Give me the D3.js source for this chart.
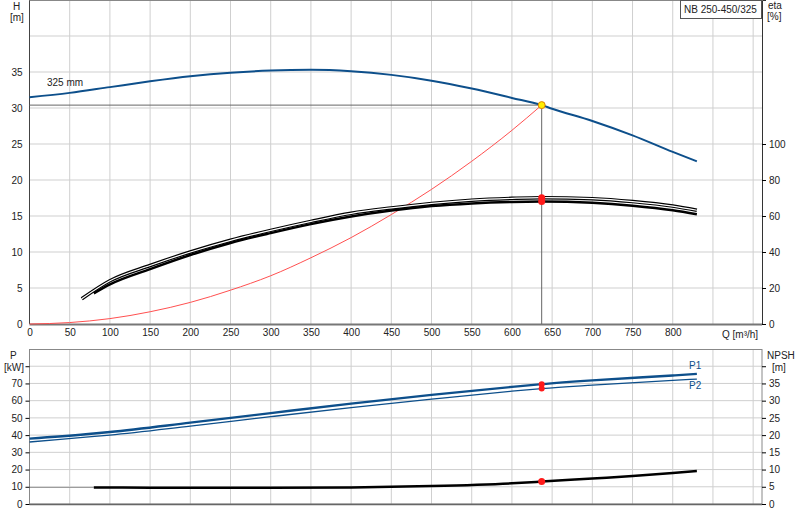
<!DOCTYPE html>
<html><head><meta charset="utf-8">
<script src="https://cdnjs.cloudflare.com/ajax/libs/d3/7.8.5/d3.min.js"></script>
<style>body{margin:0;background:#fff}text{font-family:"Liberation Sans",Arial,sans-serif;font-size:10px;fill:#222}</style>
</head><body>
<script>
// pump curve data
var headQ = [0, 50, 100, 150, 200, 250, 300, 350, 400, 450, 500, 550, 600, 637, 650, 700, 750, 800, 830];
var headH = [31.5, 32.1, 32.9, 33.7, 34.4, 34.9, 35.2, 35.3, 35.1, 34.6, 33.8, 32.7, 31.4, 30.4, 29.9, 28.2, 26.2, 23.9, 22.6];
var sysQ = [0, 50, 100, 150, 200, 250, 300, 350, 400, 450, 500, 550, 600, 637];
var sysH = [0, 0.2, 0.75, 1.7, 3.0, 4.7, 6.7, 9.2, 12.0, 15.2, 18.7, 22.6, 26.9, 30.4];
var etaQ = [65, 100, 150, 200, 250, 300, 350, 400, 450, 500, 550, 600, 637, 700, 750, 800, 830];
var eta1 = [14, 24, 32.5, 40, 46.5, 52, 57, 61.5, 64.5, 67, 68.8, 69.8, 70.2, 69.6, 68, 65.5, 63.2];
var eta2Q = [80, 100, 150, 200, 250, 300, 350, 400, 450, 500, 550, 600, 637, 700, 750, 800, 830];
var eta2 = [17, 22, 30.5, 38.3, 45, 50.5, 55.5, 59.7, 63, 65.5, 67, 67.8, 68, 67.3, 65.7, 63.2, 61];
var pQ = [0, 70, 100, 200, 300, 400, 500, 600, 637, 700, 800, 830];
var p1 = [38, 40.5, 41.8, 47.2, 52.8, 58.3, 63.4, 68, 69.6, 71.8, 74.6, 75.5];
var p2 = [36, 38.8, 40, 45.2, 50.7, 56, 60.9, 65.5, 67, 69, 71.8, 72.5];
var npshQ = [80, 150, 200, 300, 400, 500, 600, 637, 700, 750, 800, 830];
var npsh = [4.8, 4.75, 4.7, 4.7, 4.8, 5.2, 6.0, 6.5, 7.4, 8.1, 9.0, 9.6];
var duty = {q: 637, h: 30.4};
var qTicks = [0, 50, 100, 150, 200, 250, 300, 350, 400, 450, 500, 550, 600, 650, 700, 750, 800];
var hTicks = [0, 5, 10, 15, 20, 25, 30, 35];
var etaTicks = [0, 20, 40, 60, 80, 100];
var pTicks = [0, 10, 20, 30, 40, 50, 60, 70];
var npshTicks = [0, 5, 10, 15, 20, 25, 30, 35];

var svg = d3.select("body").append("svg").attr("width", 800).attr("height", 520);
var x = d3.scaleLinear().domain([0, 911]).range([29.5, 762]);
var yH = d3.scaleLinear().domain([0, 45]).range([324, 0]);
var yEta = d3.scaleLinear().domain([0, 180]).range([324, 0]);
var yP = d3.scaleLinear().domain([0, 90]).range([504, 349]);
var yN = d3.scaleLinear().domain([0, 45]).range([504, 349]);
var grid = "#cfcfcf";

function line(xs, ys, sy) {
  return d3.line().x(function(d, i) { return x(xs[i]); }).y(function(d) { return sy(d); }).curve(d3.curveMonotoneX)(ys);
}

// ---- top panel grid
var gTop = svg.append("g");
d3.range(50, 901, 50).forEach(function(q) {
  gTop.append("line").attr("x1", x(q)).attr("x2", x(q)).attr("y1", 0).attr("y2", 324).attr("stroke", grid);
});
d3.range(5, 45, 5).forEach(function(h) {
  gTop.append("line").attr("x1", 29.5).attr("x2", 762).attr("y1", yH(h)).attr("y2", yH(h)).attr("stroke", grid);
});
gTop.append("line").attr("x1", 29.5).attr("x2", 29.5).attr("y1", 0).attr("y2", 324).attr("stroke", "#444");
gTop.append("line").attr("x1", 29.5).attr("x2", 762).attr("y1", 324.5).attr("y2", 324.5).attr("stroke", "#777").attr("stroke-width", 2);
gTop.append("line").attr("x1", 29.5).attr("x2", 762).attr("y1", 0.5).attr("y2", 0.5).attr("stroke", "#888");

var ax = svg.append("g").attr("transform", "translate(0,324)")
  .call(d3.axisBottom(x).tickValues(qTicks).tickSize(0).tickPadding(5));
ax.select(".domain").remove();
svg.append("g").attr("transform", "translate(29.5,0)")
  .call(d3.axisLeft(yH).tickValues(hTicks).tickSize(0).tickPadding(7)).select(".domain").remove();
svg.append("g").attr("transform", "translate(762,0)")
  .call(d3.axisRight(yEta).tickValues(etaTicks).tickSize(4).tickPadding(3)).select(".domain").attr("stroke", "#333");

svg.append("text").attr("x", 13).attr("y", 10).text("H");
svg.append("text").attr("x", 10).attr("y", 21).text("[m]");
svg.append("text").attr("x", 768).attr("y", 9).text("eta");
svg.append("text").attr("x", 767).attr("y", 20).text("[%]");
svg.append("text").attr("x", 722).attr("y", 338).html("Q [m&#179;/h]");
svg.append("rect").attr("x", 680.5).attr("y", 0.5).attr("width", 81).attr("height", 18).attr("fill", "#fff").attr("stroke", "#555");
svg.append("text").attr("x", 684).attr("y", 13).text("NB 250-450/325");
svg.append("text").attr("x", 47).attr("y", 86).text("325 mm");

// duty lines
gTop.append("line").attr("x1", x(0)).attr("x2", x(duty.q)).attr("y1", yH(duty.h)).attr("y2", yH(duty.h)).attr("stroke", "#666");
gTop.append("line").attr("x1", x(duty.q)).attr("x2", x(duty.q)).attr("y1", yH(duty.h)).attr("y2", 324).attr("stroke", "#666");

// curves
gTop.append("path").attr("d", line(sysQ, sysH, yH)).attr("fill", "none").attr("stroke", "#ff5050").attr("stroke-width", 1);
gTop.append("path").attr("d", line(headQ, headH, yH)).attr("fill", "none").attr("stroke", "#0d4f8b").attr("stroke-width", 2);
gTop.append("path").attr("d", line(etaQ, eta1, yEta)).attr("fill", "none").attr("stroke", "#000").attr("stroke-width", 3.5);
gTop.append("path").attr("d", line(etaQ, eta1, yEta)).attr("fill", "none").attr("stroke", "#fff").attr("stroke-width", 1.2);
gTop.append("path").attr("d", line(eta2Q, eta2, yEta)).attr("fill", "none").attr("stroke", "#000").attr("stroke-width", 2.5);
[[eta1, etaQ], [eta2, eta2Q]].forEach(function(s) {
  var i = s[1].indexOf(duty.q);
  gTop.append("circle").attr("cx", x(duty.q)).attr("cy", yEta(s[0][i])).attr("r", 3.5).attr("fill", "#ff1a1a");
});
gTop.append("circle").attr("cx", x(duty.q)).attr("cy", yH(duty.h)).attr("r", 3.5).attr("fill", "#ffee00").attr("stroke", "#e08000");

// ---- bottom panel
var gBot = svg.append("g");
d3.range(50, 901, 50).forEach(function(q) {
  gBot.append("line").attr("x1", x(q)).attr("x2", x(q)).attr("y1", 349).attr("y2", 504).attr("stroke", grid);
});
d3.range(10, 90, 10).forEach(function(p) {
  gBot.append("line").attr("x1", 29.5).attr("x2", 762).attr("y1", yP(p)).attr("y2", yP(p)).attr("stroke", grid);
});
gBot.append("rect").attr("x", 29.5).attr("y", 349.5).attr("width", 732.5).attr("height", 154.5).attr("fill", "none").attr("stroke", "#888");
gBot.append("line").attr("x1", 29.5).attr("x2", 762).attr("y1", 504.5).attr("y2", 504.5).attr("stroke", "#666").attr("stroke-width", 1.5);
svg.append("g").attr("transform", "translate(29.5,0)")
  .call(d3.axisLeft(yP).tickValues(pTicks.concat([80])).tickFormat(function(d) { return d === 80 ? "" : d; }).tickSize(4).tickPadding(3))
  .select(".domain").remove();
svg.append("g").attr("transform", "translate(762,0)")
  .call(d3.axisRight(yN).tickValues(npshTicks.concat([40])).tickFormat(function(d) { return d === 40 ? "" : d; }).tickSize(4).tickPadding(3))
  .select(".domain").remove();
svg.selectAll(".tick text").style("font-family", "Liberation Sans").style("font-size", "10px").attr("fill", "#222");
svg.append("text").attr("x", 10).attr("y", 359).text("P");
svg.append("text").attr("x", 4).attr("y", 371).text("[kW]");
svg.append("text").attr("x", 767).attr("y", 359).text("NPSH");
svg.append("text").attr("x", 772).attr("y", 371).text("[m]");

gBot.append("line").attr("x1", x(0)).attr("x2", x(80)).attr("y1", yN(4.8)).attr("y2", yN(4.8)).attr("stroke", "#999");
gBot.append("path").attr("d", line(npshQ, npsh, yN)).attr("fill", "none").attr("stroke", "#000").attr("stroke-width", 2.5);
gBot.append("path").attr("d", line(pQ, p2, yP)).attr("fill", "none").attr("stroke", "#0d4f8b").attr("stroke-width", 1.3);
gBot.append("path").attr("d", line(pQ, p1, yP)).attr("fill", "none").attr("stroke", "#0d4f8b").attr("stroke-width", 2.3);
var di = pQ.indexOf(duty.q);
[p1[di], p2[di]].forEach(function(v) {
  gBot.append("circle").attr("cx", x(duty.q)).attr("cy", yP(v)).attr("r", 3).attr("fill", "#ff1a1a");
});
gBot.append("circle").attr("cx", x(duty.q)).attr("cy", yN(npsh[npshQ.indexOf(duty.q)])).attr("r", 3.5).attr("fill", "#ff1a1a");
svg.append("text").attr("x", 689).attr("y", 369).style("fill", "#0d4f8b").text("P1");
svg.append("text").attr("x", 689).attr("y", 389).style("fill", "#0d4f8b").text("P2");
</script>
</body></html>
